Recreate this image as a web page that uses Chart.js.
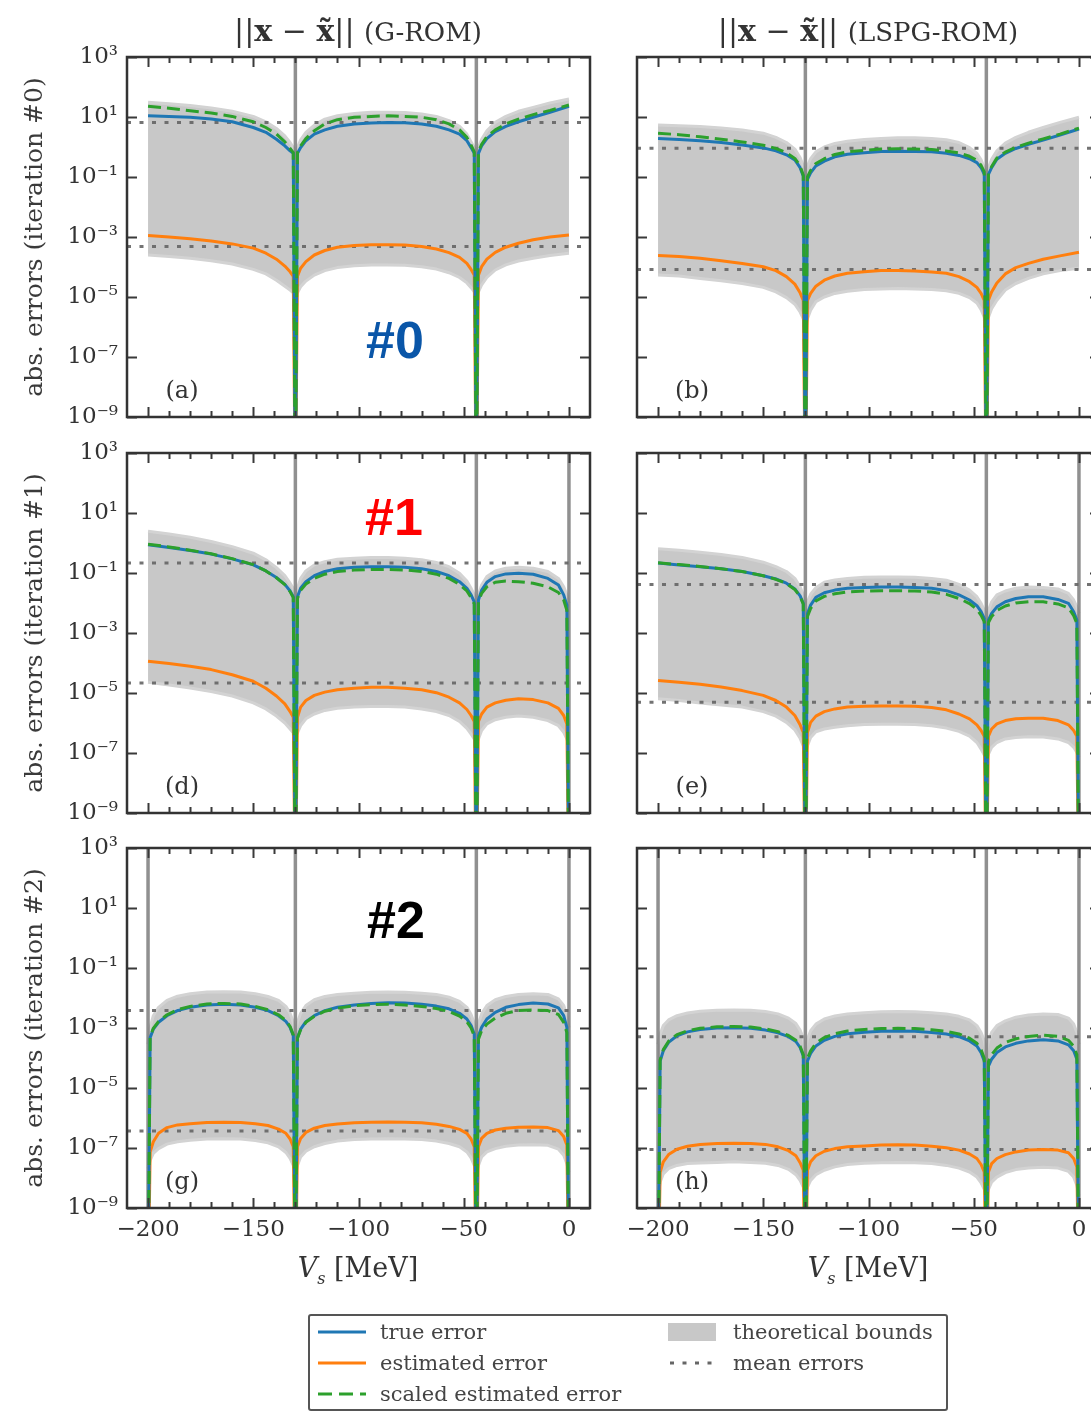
<!DOCTYPE html>
<html>
<head>
<meta charset="utf-8">
<script src="https://cdn.jsdelivr.net/npm/chart.js@4.4.1/dist/chart.umd.min.js"></script>
<style>
  html, body { margin: 0; padding: 0; background: #fff; width: 1091px; height: 1411px; overflow: hidden; position: relative; }
  canvas { position: absolute; }
  .txt { position: absolute; font-family: "DejaVu Serif", "Liberation Serif", serif; color: #333; white-space: nowrap; transform: translate(-50%, -50%); }
  .coltitle { font-size: 30px; }
  .coltitle .rom { font-size: 26px; }
  .xtitle { font-size: 27px; }
  .tag { position: absolute; font-family: "Liberation Sans", Arial, sans-serif; font-weight: bold; font-size: 52px; transform: translate(-50%, -50%); white-space: nowrap; }
  #legend { position: absolute; left: 308px; top: 1314px; width: 636px; height: 93px; border: 2px solid #555; border-radius: 3px; background: #fff; }
  .lg-item { position: absolute; font-family: "DejaVu Serif", "Liberation Serif", serif; font-size: 21px; color: #444; transform: translateY(-50%); white-space: nowrap; }
  .lg-sw { position: absolute; transform: translateY(-50%); }
</style>
</head>
<body>
<script>
// Matching energy V_s (MeV) sampled for each row of panels
const vsRow0 = [-200, -190, -180, -170, -160, -150, -144, -139, -135, -132.5, -131,
  -130,
  -129, -127.5, -125, -121, -116, -110, -102, -94, -86, -78, -70, -63, -57, -52, -48.5, -46.5, -45,
  -44,
  -43, -41.5, -39, -35, -30, -24, -17, -9, 0];
const vsRow1 = [-200, -190, -180, -170, -160, -150, -144, -139, -135, -132.5, -131,
  -130,
  -129, -127.5, -125, -121, -116, -110, -102, -94, -86, -78, -70, -63, -57, -52, -48.5, -46.5, -45,
  -44,
  -43, -41.5, -39, -35, -30, -24, -17, -10, -5, -2.5, -1,
  0];
const vsRow2 = [-200,
  -199, -197.5, -195, -191, -186, -180, -172, -164, -156, -149, -143, -138, -134.5, -132.5, -131,
  -130,
  -129, -127.5, -125, -121, -116, -110, -102, -94, -86, -78, -70, -63, -57, -52, -48.5, -46.5, -45,
  -44,
  -43, -41.5, -39, -35, -30, -24, -17, -10, -5, -2.5, -1,
  0];

// Training points where the reduced model is exact (vertical markers)
const exactRow0 = [-130, -44];
const exactRow1 = [-130, -44, 0];
const exactRow2 = [-200, -130, -44, 0];

// Errors as log10 values; -12 marks the drop to zero at a training point
// (a) G-ROM, iteration #0
const logTrueA   = [1.04, 1.02, 0.99, 0.93, 0.84, 0.65, 0.49, 0.26, 0.04, -0.13, -0.21, -12, -0.21, -0.02, 0.21, 0.43, 0.57, 0.69, 0.77, 0.80, 0.82, 0.81, 0.77, 0.69, 0.57, 0.43, 0.21, -0.02, -0.21, -12, -0.21, 0.04, 0.28, 0.51, 0.69, 0.84, 0.99, 1.16, 1.36];
const logEstA    = [-2.95, -3.00, -3.06, -3.13, -3.23, -3.37, -3.54, -3.74, -3.97, -4.16, -4.31, -12, -4.31, -4.04, -3.82, -3.60, -3.45, -3.34, -3.28, -3.26, -3.26, -3.27, -3.32, -3.40, -3.52, -3.68, -3.88, -4.08, -4.27, -12, -4.27, -3.99, -3.74, -3.51, -3.34, -3.21, -3.09, -3.00, -2.93];
const logScaledA = [1.36, 1.29, 1.21, 1.13, 1.02, 0.84, 0.65, 0.43, 0.17, -0.05, -0.19, -12, -0.19, 0.04, 0.28, 0.54, 0.77, 0.91, 0.99, 1.02, 1.04, 1.02, 0.99, 0.91, 0.77, 0.57, 0.32, 0.06, -0.16, -12, -0.16, 0.09, 0.35, 0.57, 0.77, 0.93, 1.08, 1.22, 1.40];
const logUpperA  = [1.49, 1.44, 1.38, 1.30, 1.19, 1.02, 0.84, 0.62, 0.37, 0.15, -0.02, -0.13, -0.02, 0.24, 0.49, 0.73, 0.93, 1.04, 1.12, 1.16, 1.16, 1.15, 1.10, 1.02, 0.88, 0.69, 0.43, 0.17, -0.02, -0.13, -0.02, 0.26, 0.54, 0.82, 1.02, 1.19, 1.32, 1.47, 1.60];
const logLowerA  = [-3.60, -3.65, -3.71, -3.79, -3.90, -4.08, -4.23, -4.44, -4.64, -4.77, -4.86, -4.94, -4.86, -4.66, -4.47, -4.27, -4.12, -4.02, -3.96, -3.93, -3.93, -3.94, -3.99, -4.07, -4.19, -4.35, -4.53, -4.69, -4.83, -4.94, -4.83, -4.60, -4.35, -4.10, -3.93, -3.80, -3.71, -3.62, -3.54];
const logMeansA  = [0.82, -3.32];

// (b) LSPG-ROM, iteration #0
const logTrueB   = [0.28, 0.25, 0.21, 0.15, 0.07, -0.03, -0.13, -0.26, -0.43, -0.69, -0.97, -12, -1.08, -0.86, -0.63, -0.47, -0.33, -0.24, -0.19, -0.15, -0.14, -0.15, -0.16, -0.21, -0.28, -0.39, -0.52, -0.69, -0.91, -12, -0.91, -0.69, -0.41, -0.21, -0.05, 0.09, 0.23, 0.40, 0.60];
const logEstB    = [-3.62, -3.65, -3.71, -3.79, -3.88, -3.99, -4.12, -4.32, -4.57, -4.86, -5.11, -12, -5.11, -4.88, -4.64, -4.44, -4.30, -4.21, -4.16, -4.12, -4.12, -4.13, -4.17, -4.21, -4.32, -4.49, -4.68, -4.88, -5.11, -12, -5.11, -4.83, -4.53, -4.23, -4.02, -3.88, -3.74, -3.63, -3.51];
const logScaledB = [0.46, 0.41, 0.34, 0.26, 0.17, 0.06, -0.05, -0.19, -0.38, -0.63, -0.94, -12, -1.00, -0.78, -0.55, -0.39, -0.25, -0.16, -0.11, -0.07, -0.06, -0.07, -0.08, -0.13, -0.20, -0.31, -0.44, -0.61, -0.83, -12, -0.88, -0.65, -0.37, -0.17, -0.01, 0.13, 0.27, 0.43, 0.63];
const logUpperB  = [0.73, 0.71, 0.68, 0.63, 0.57, 0.46, 0.32, 0.15, -0.07, -0.35, -0.63, -1.02, -0.63, -0.39, -0.16, 0.00, 0.12, 0.19, 0.25, 0.28, 0.31, 0.31, 0.28, 0.24, 0.15, -0.02, -0.21, -0.43, -0.69, -1.02, -0.69, -0.41, -0.13, 0.13, 0.32, 0.49, 0.65, 0.82, 0.99];
const logLowerB  = [-4.27, -4.30, -4.38, -4.46, -4.55, -4.68, -4.83, -5.02, -5.24, -5.50, -5.72, -5.95, -5.72, -5.44, -5.16, -5.00, -4.88, -4.81, -4.75, -4.73, -4.72, -4.73, -4.75, -4.79, -4.88, -5.02, -5.20, -5.42, -5.67, -5.89, -5.67, -5.39, -5.11, -4.77, -4.55, -4.38, -4.23, -4.12, -4.04];
const logMeansB  = [-0.04, -4.08];

// (d) G-ROM, iteration #1
const logTrueD   = [-0.06, -0.15, -0.25, -0.37, -0.53, -0.73, -0.93, -1.15, -1.38, -1.60, -1.79, -12, -1.79, -1.51, -1.29, -1.09, -0.95, -0.86, -0.81, -0.79, -0.79, -0.81, -0.86, -0.95, -1.09, -1.29, -1.51, -1.73, -1.96, -12, -1.90, -1.57, -1.31, -1.12, -1.03, -1.01, -1.04, -1.18, -1.40, -1.73, -2.07, -12];
const logEstD    = [-3.94, -4.02, -4.11, -4.22, -4.39, -4.61, -4.84, -5.10, -5.36, -5.62, -5.81, -12, -5.81, -5.47, -5.25, -5.08, -4.97, -4.89, -4.84, -4.81, -4.81, -4.84, -4.89, -4.99, -5.14, -5.33, -5.55, -5.75, -5.95, -12, -5.95, -5.70, -5.47, -5.33, -5.24, -5.19, -5.22, -5.33, -5.51, -5.75, -6.03, -12];
const logScaledD = [-0.04, -0.13, -0.24, -0.36, -0.52, -0.72, -0.93, -1.16, -1.39, -1.62, -1.82, -12, -1.85, -1.58, -1.37, -1.18, -1.04, -0.95, -0.90, -0.88, -0.88, -0.90, -0.95, -1.04, -1.18, -1.38, -1.60, -1.82, -2.03, -12, -1.96, -1.68, -1.46, -1.31, -1.27, -1.29, -1.34, -1.46, -1.65, -1.90, -2.24, -12];
const logUpperD  = [0.39, 0.30, 0.19, 0.05, -0.12, -0.34, -0.56, -0.82, -1.09, -1.34, -1.51, -1.73, -1.51, -1.18, -0.93, -0.73, -0.62, -0.54, -0.51, -0.48, -0.48, -0.51, -0.56, -0.65, -0.79, -1.01, -1.27, -1.51, -1.73, -1.96, -1.73, -1.40, -1.12, -0.93, -0.84, -0.81, -0.84, -0.95, -1.18, -1.46, -1.73, -2.01];
const logLowerD  = [-4.64, -4.73, -4.83, -4.95, -5.10, -5.33, -5.53, -5.77, -6.00, -6.20, -6.33, -6.48, -6.33, -6.09, -5.86, -5.70, -5.58, -5.51, -5.47, -5.45, -5.45, -5.47, -5.53, -5.62, -5.75, -5.95, -6.18, -6.37, -6.53, -6.70, -6.53, -6.25, -6.03, -5.89, -5.81, -5.77, -5.81, -5.92, -6.09, -6.31, -6.53, -6.76];
const logMeansD  = [-0.67, -4.67];

// (e) LSPG-ROM, iteration #1
const logTrueE   = [-0.67, -0.73, -0.79, -0.86, -0.95, -1.09, -1.20, -1.34, -1.53, -1.76, -2.01, -12, -2.35, -2.07, -1.81, -1.66, -1.57, -1.51, -1.48, -1.47, -1.47, -1.48, -1.51, -1.59, -1.73, -1.90, -2.09, -2.29, -2.52, -12, -2.57, -2.35, -2.13, -1.96, -1.85, -1.79, -1.79, -1.88, -2.01, -2.29, -2.57, -12];
const logEstE    = [-4.58, -4.64, -4.71, -4.80, -4.92, -5.08, -5.25, -5.47, -5.75, -6.06, -6.31, -12, -6.31, -5.98, -5.77, -5.62, -5.53, -5.47, -5.44, -5.43, -5.43, -5.44, -5.48, -5.56, -5.70, -5.86, -6.06, -6.25, -6.44, -12, -6.44, -6.20, -6.03, -5.92, -5.86, -5.84, -5.84, -5.92, -6.06, -6.25, -6.44, -12];
const logScaledE = [-0.66, -0.72, -0.78, -0.86, -0.95, -1.09, -1.21, -1.35, -1.55, -1.78, -2.04, -12, -2.45, -2.18, -1.93, -1.78, -1.69, -1.63, -1.60, -1.59, -1.59, -1.60, -1.63, -1.71, -1.85, -2.02, -2.21, -2.41, -2.62, -12, -2.65, -2.45, -2.25, -2.10, -2.00, -1.96, -1.96, -2.03, -2.16, -2.42, -2.68, -12];
const logUpperE  = [-0.19, -0.24, -0.31, -0.38, -0.48, -0.64, -0.79, -0.95, -1.18, -1.46, -1.73, -2.18, -1.96, -1.71, -1.49, -1.31, -1.23, -1.18, -1.14, -1.13, -1.13, -1.14, -1.18, -1.24, -1.38, -1.57, -1.79, -2.01, -2.24, -2.46, -2.24, -1.96, -1.73, -1.60, -1.51, -1.47, -1.48, -1.53, -1.68, -1.90, -2.13, -2.35];
const logLowerE  = [-5.19, -5.25, -5.33, -5.40, -5.47, -5.62, -5.77, -5.98, -6.23, -6.51, -6.76, -7.00, -6.76, -6.48, -6.29, -6.20, -6.14, -6.09, -6.05, -6.04, -6.04, -6.05, -6.09, -6.17, -6.28, -6.44, -6.65, -6.87, -7.07, -7.26, -7.04, -6.81, -6.65, -6.53, -6.48, -6.46, -6.47, -6.53, -6.65, -6.81, -6.98, -7.15];
const logMeansE  = [-1.38, -5.31];

// (g) G-ROM, iteration #2
const logTrueG   = [-12, -3.32, -3.04, -2.81, -2.59, -2.42, -2.31, -2.23, -2.21, -2.23, -2.31, -2.42, -2.59, -2.78, -2.98, -3.26, -12, -3.32, -3.04, -2.79, -2.59, -2.42, -2.31, -2.23, -2.18, -2.16, -2.17, -2.21, -2.27, -2.36, -2.51, -2.70, -2.92, -3.20, -12, -3.26, -2.98, -2.70, -2.48, -2.31, -2.22, -2.17, -2.20, -2.33, -2.59, -2.98, -12];
const logEstG    = [-12, -7.13, -6.79, -6.51, -6.32, -6.23, -6.19, -6.15, -6.14, -6.15, -6.19, -6.25, -6.37, -6.51, -6.70, -6.96, -12, -6.96, -6.68, -6.48, -6.34, -6.25, -6.20, -6.16, -6.14, -6.13, -6.14, -6.16, -6.21, -6.28, -6.38, -6.51, -6.70, -6.96, -12, -6.96, -6.68, -6.51, -6.40, -6.34, -6.31, -6.30, -6.32, -6.42, -6.62, -6.90, -12];
const logScaledG = [-12, -3.30, -3.01, -2.78, -2.56, -2.39, -2.28, -2.20, -2.18, -2.20, -2.28, -2.39, -2.56, -2.75, -2.95, -3.23, -12, -3.34, -3.06, -2.81, -2.61, -2.44, -2.34, -2.26, -2.22, -2.21, -2.23, -2.28, -2.35, -2.45, -2.60, -2.79, -3.00, -3.27, -12, -3.37, -3.09, -2.87, -2.67, -2.51, -2.42, -2.40, -2.42, -2.55, -2.81, -3.15, -12];
const logUpperG  = [-3.54, -2.98, -2.59, -2.31, -2.08, -1.94, -1.86, -1.80, -1.79, -1.80, -1.86, -1.95, -2.08, -2.28, -2.51, -2.81, -3.20, -2.81, -2.51, -2.25, -2.06, -1.95, -1.88, -1.84, -1.81, -1.80, -1.81, -1.84, -1.88, -1.97, -2.11, -2.31, -2.55, -2.85, -3.20, -2.85, -2.53, -2.25, -2.06, -1.95, -1.88, -1.86, -1.88, -2.03, -2.25, -2.59, -2.98];
const logLowerG  = [-7.69, -7.41, -7.18, -7.02, -6.87, -6.79, -6.74, -6.70, -6.69, -6.70, -6.75, -6.83, -6.96, -7.15, -7.35, -7.58, -7.91, -7.58, -7.30, -7.11, -6.96, -6.85, -6.77, -6.72, -6.70, -6.69, -6.70, -6.72, -6.77, -6.85, -6.96, -7.13, -7.33, -7.58, -7.91, -7.58, -7.30, -7.13, -7.02, -6.94, -6.90, -6.89, -6.91, -7.04, -7.24, -7.52, -7.80];
const logMeansG  = [-2.42, -6.43];

// (h) LSPG-ROM, iteration #2
const logTrueH   = [-12, -4.10, -3.76, -3.48, -3.26, -3.13, -3.05, -3.00, -2.99, -3.01, -3.07, -3.16, -3.29, -3.45, -3.65, -3.93, -12, -4.10, -3.85, -3.60, -3.41, -3.28, -3.19, -3.14, -3.11, -3.10, -3.11, -3.15, -3.20, -3.29, -3.43, -3.60, -3.82, -4.10, -12, -4.27, -4.04, -3.82, -3.63, -3.51, -3.43, -3.39, -3.43, -3.56, -3.76, -4.04, -12];
const logEstH    = [-12, -7.80, -7.46, -7.22, -7.04, -6.94, -6.88, -6.85, -6.84, -6.85, -6.88, -6.96, -7.09, -7.26, -7.49, -7.74, -12, -7.74, -7.46, -7.26, -7.11, -7.02, -6.96, -6.93, -6.90, -6.89, -6.90, -6.94, -6.99, -7.07, -7.20, -7.35, -7.55, -7.80, -12, -7.80, -7.52, -7.35, -7.22, -7.13, -7.07, -7.05, -7.07, -7.16, -7.35, -7.63, -12];
const logScaledH = [-12, -4.06, -3.72, -3.44, -3.22, -3.09, -3.01, -2.96, -2.95, -2.97, -3.03, -3.12, -3.25, -3.41, -3.61, -3.89, -12, -4.01, -3.76, -3.51, -3.32, -3.19, -3.10, -3.05, -3.02, -3.01, -3.02, -3.06, -3.11, -3.20, -3.34, -3.51, -3.73, -4.01, -12, -4.12, -3.89, -3.67, -3.48, -3.36, -3.28, -3.24, -3.28, -3.41, -3.61, -3.89, -12];
const logUpperH  = [-3.54, -3.20, -2.92, -2.73, -2.59, -2.50, -2.44, -2.41, -2.40, -2.41, -2.45, -2.53, -2.67, -2.85, -3.07, -3.34, -3.76, -3.37, -3.09, -2.87, -2.70, -2.60, -2.53, -2.49, -2.46, -2.45, -2.46, -2.49, -2.53, -2.61, -2.73, -2.92, -3.15, -3.43, -3.82, -3.43, -3.15, -2.92, -2.76, -2.64, -2.57, -2.53, -2.55, -2.67, -2.87, -3.15, -3.54];
const logLowerH  = [-8.59, -8.14, -7.86, -7.69, -7.58, -7.52, -7.50, -7.48, -7.46, -7.48, -7.51, -7.58, -7.71, -7.89, -8.08, -8.30, -8.64, -8.30, -8.08, -7.89, -7.74, -7.63, -7.55, -7.51, -7.49, -7.48, -7.49, -7.52, -7.58, -7.67, -7.80, -7.97, -8.16, -8.38, -8.64, -8.38, -8.14, -7.97, -7.82, -7.72, -7.67, -7.64, -7.67, -7.78, -7.97, -8.25, -8.59];
const logMeansH  = [-3.29, -7.05];

// Axis ticks
const xMajorTicks = [-200, -150, -100, -50, 0];
const xTickLabels = ['\u2212200', '\u2212150', '\u2212100', '\u221250', '0'];
const xMinorTicks = [-200, -190, -180, -170, -160, -150, -140, -130, -120, -110, -100, -90, -80, -70, -60, -50, -40, -30, -20, -10, 0];
const yTickValues = [1e3, 1e1, 1e-1, 1e-3, 1e-5, 1e-7, 1e-9];
const yTickLabels = ['10\u00b3', '10\u00b9', '10\u207b\u00b9', '10\u207b\u00b3', '10\u207b\u2075', '10\u207b\u2077', '10\u207b\u2079'];

const X_MIN = -210, X_MAX = 10, Y_MIN = 1e-9, Y_MAX = 1e3;
const SERIF = '"DejaVu Serif", "Liberation Serif", serif';
const rowTops = [57, 453, 848];

const panels = [
  { row: 0, col: 0, xs: vsRow0, marks: exactRow0, tr: logTrueA, est: logEstA, sc: logScaledA, up: logUpperA, lo: logLowerA, means: logMeansA, letter: '(a)', ylabel: 'abs. errors (iteration #0)' },
  { row: 0, col: 1, xs: vsRow0, marks: exactRow0, tr: logTrueB, est: logEstB, sc: logScaledB, up: logUpperB, lo: logLowerB, means: logMeansB, letter: '(b)' },
  { row: 1, col: 0, xs: vsRow1, marks: exactRow1, tr: logTrueD, est: logEstD, sc: logScaledD, up: logUpperD, lo: logLowerD, means: logMeansD, letter: '(d)', ylabel: 'abs. errors (iteration #1)' },
  { row: 1, col: 1, xs: vsRow1, marks: exactRow1, tr: logTrueE, est: logEstE, sc: logScaledE, up: logUpperE, lo: logLowerE, means: logMeansE, letter: '(e)' },
  { row: 2, col: 0, xs: vsRow2, marks: exactRow2, tr: logTrueG, est: logEstG, sc: logScaledG, up: logUpperG, lo: logLowerG, means: logMeansG, letter: '(g)', ylabel: 'abs. errors (iteration #2)' },
  { row: 2, col: 1, xs: vsRow2, marks: exactRow2, tr: logTrueH, est: logEstH, sc: logScaledH, up: logUpperH, lo: logLowerH, means: logMeansH, letter: '(h)' }
];

function toPoints(xs, logs) {
  return xs.map((x, i) => ({ x: x, y: Math.pow(10, logs[i]) }));
}

// Frame, inward ticks on all four sides and the panel letter
const framePlugin = {
  id: 'frame',
  afterDraw(chart, args, opts) {
    const { ctx, chartArea: a, scales } = chart;
    const xs = scales.x, ys = scales.y;
    ctx.save();
    ctx.strokeStyle = '#3a3a3a';
    ctx.lineWidth = 2;
    ctx.beginPath();
    xMinorTicks.forEach(v => {
      const px = Math.round(xs.getPixelForValue(v)) + 0.5;
      const len = xMajorTicks.includes(v) ? 10 : 6;
      ctx.moveTo(px, a.top); ctx.lineTo(px, a.top + len);
      ctx.moveTo(px, a.bottom); ctx.lineTo(px, a.bottom - len);
    });
    yTickValues.forEach(v => {
      const py = Math.round(ys.getPixelForValue(v)) + 0.5;
      ctx.moveTo(a.left, py); ctx.lineTo(a.left + 10, py);
      ctx.moveTo(a.right, py); ctx.lineTo(a.right - 10, py);
    });
    ctx.stroke();
    ctx.lineWidth = 2.5;
    ctx.strokeStyle = '#333';
    ctx.strokeRect(a.left, a.top, a.width, a.height);
    ctx.font = '24px ' + SERIF;
    ctx.fillStyle = '#333';
    ctx.textAlign = 'center';
    ctx.textBaseline = 'middle';
    ctx.fillText(opts.letter, a.left + 55, a.bottom - 25);
    ctx.restore();
  }
};

function buildPanel(p) {
  const canvas = document.createElement('canvas');
  const left = p.col === 0 ? 0 : 600;
  const width = p.col === 0 ? 600 : 510;
  const top = rowTops[p.row] - 20;
  canvas.width = width; canvas.height = 430;
  canvas.style.left = left + 'px'; canvas.style.top = top + 'px';
  canvas.style.width = width + 'px'; canvas.style.height = '430px';
  document.body.appendChild(canvas);

  const showX = p.row === 2;
  const showY = p.col === 0;
  const yAxisWidth = p.col === 0 ? 127 : 37;

  const datasets = [
    { label: 'theoretical bounds', data: toPoints(p.xs, p.up), borderColor: '#d3d3d3', borderWidth: 3,
      backgroundColor: '#c8c8c8', fill: '+1', order: 8 },
    { label: 'lower bound', data: toPoints(p.xs, p.lo), borderColor: '#d3d3d3', borderWidth: 3, fill: false, order: 9 }
  ];
  p.marks.forEach(m => datasets.push({
    data: [{ x: m, y: Y_MIN }, { x: m, y: Y_MAX }], borderColor: 'rgba(125,125,125,0.85)', borderWidth: 3.5, fill: false, order: 7
  }));
  p.means.forEach(m => datasets.push({
    label: 'mean errors', data: [{ x: X_MIN, y: Math.pow(10, m) }, { x: X_MAX, y: Math.pow(10, m) }],
    borderColor: 'rgba(100,100,100,0.9)', borderWidth: 3, borderDash: [4, 8.5], fill: false, order: 6
  }));
  datasets.push({ label: 'estimated error', data: toPoints(p.xs, p.est), borderColor: '#ff7f0e', borderWidth: 3, fill: false, order: 3 });
  datasets.push({ label: 'true error', data: toPoints(p.xs, p.tr), borderColor: '#1f77b4', borderWidth: 3, fill: false, order: 2 });
  datasets.push({ label: 'scaled estimated error', data: toPoints(p.xs, p.sc), borderColor: '#2ca02c', borderWidth: 3,
    borderDash: [13, 6], fill: false, order: 1 });

  new Chart(canvas, {
    type: 'line',
    data: { datasets: datasets },
    options: {
      responsive: false,
      animation: false,
      events: [],
      devicePixelRatio: 1,
      layout: { padding: { top: 20, right: 10, bottom: 0, left: 0 }, autoPadding: false },
      elements: { point: { radius: 0 }, line: { tension: 0, borderCapStyle: 'butt', borderJoinStyle: 'round' } },
      plugins: {
        legend: { display: false },
        tooltip: { enabled: false },
        filler: { drawTime: 'beforeDatasetsDraw' },
        frame: { letter: p.letter }
      },
      scales: {
        x: {
          type: 'linear', position: 'bottom', min: X_MIN, max: X_MAX,
          grid: { display: false, drawTicks: false }, border: { display: false },
          afterBuildTicks: axis => { axis.ticks = xMajorTicks.map(v => ({ value: v })); },
          afterFit: s => { s.height = 50; s.paddingLeft = 0; s.paddingRight = 0; },
          ticks: {
            display: showX, autoSkip: false, maxRotation: 0, padding: 8, color: '#333',
            font: { family: SERIF, size: 23 },
            callback: v => xTickLabels[xMajorTicks.indexOf(v)]
          }
        },
        y: {
          type: 'logarithmic', position: 'left', min: Y_MIN, max: Y_MAX,
          grid: { display: false, drawTicks: false }, border: { display: false },
          afterBuildTicks: axis => { axis.ticks = yTickValues.map(v => ({ value: v })); },
          afterFit: s => { s.width = yAxisWidth; s.paddingTop = 0; s.paddingBottom = 0; },
          ticks: {
            display: showY, autoSkip: false, padding: 9, color: '#333',
            font: { family: SERIF, size: 23 },
            callback: v => yTickLabels[yTickValues.indexOf(v)]
          },
          title: {
            display: showY, text: p.ylabel || '', color: '#3a3a3a',
            font: { family: SERIF, size: 25 }, padding: { top: 20, bottom: 0 }
          }
        }
      }
    },
    plugins: [framePlugin]
  });
}

panels.forEach(buildPanel);
</script>

<div class="txt coltitle" style="left:358px; top:30px;">||<b>x</b> &minus; <b>x&#771;</b>|| <span class="rom">(G-ROM)</span></div>
<div class="txt coltitle" style="left:868px; top:30px;">||<b>x</b> &minus; <b>x&#771;</b>|| <span class="rom">(LSPG-ROM)</span></div>

<div class="txt xtitle" style="left:358px; top:1270px;"><i>V</i><sub style="font-size:16px;"><i>s</i></sub> [MeV]</div>
<div class="txt xtitle" style="left:868px; top:1270px;"><i>V</i><sub style="font-size:16px;"><i>s</i></sub> [MeV]</div>

<div class="tag" style="left:395px; top:340px; color:#0a56a8;">#0</div>
<div class="tag" style="left:394px; top:517px; color:#ff0000;">#1</div>
<div class="tag" style="left:396px; top:920px; color:#000;">#2</div>

<div id="legend">
  <svg class="lg-sw" style="left:8px; top:16px;" width="48" height="8"><line x1="0" y1="4" x2="48" y2="4" stroke="#1f77b4" stroke-width="3"/></svg>
  <div class="lg-item" style="left:70px; top:16px;">true error</div>
  <svg class="lg-sw" style="left:8px; top:47px;" width="48" height="8"><line x1="0" y1="4" x2="48" y2="4" stroke="#ff7f0e" stroke-width="3"/></svg>
  <div class="lg-item" style="left:70px; top:47px;">estimated error</div>
  <svg class="lg-sw" style="left:8px; top:78px;" width="48" height="8"><line x1="0" y1="4" x2="48" y2="4" stroke="#2ca02c" stroke-width="3" stroke-dasharray="14 7"/></svg>
  <div class="lg-item" style="left:70px; top:78px;">scaled estimated error</div>
  <svg class="lg-sw" style="left:358px; top:16px;" width="48" height="18"><rect x="0" y="0" width="48" height="18" fill="#c8c8c8"/></svg>
  <div class="lg-item" style="left:423px; top:16px;">theoretical bounds</div>
  <svg class="lg-sw" style="left:358px; top:47px;" width="48" height="8"><line x1="2" y1="4" x2="48" y2="4" stroke="#666" stroke-width="3" stroke-dasharray="4 8.5"/></svg>
  <div class="lg-item" style="left:423px; top:47px;">mean errors</div>
</div>
</body>
</html>
